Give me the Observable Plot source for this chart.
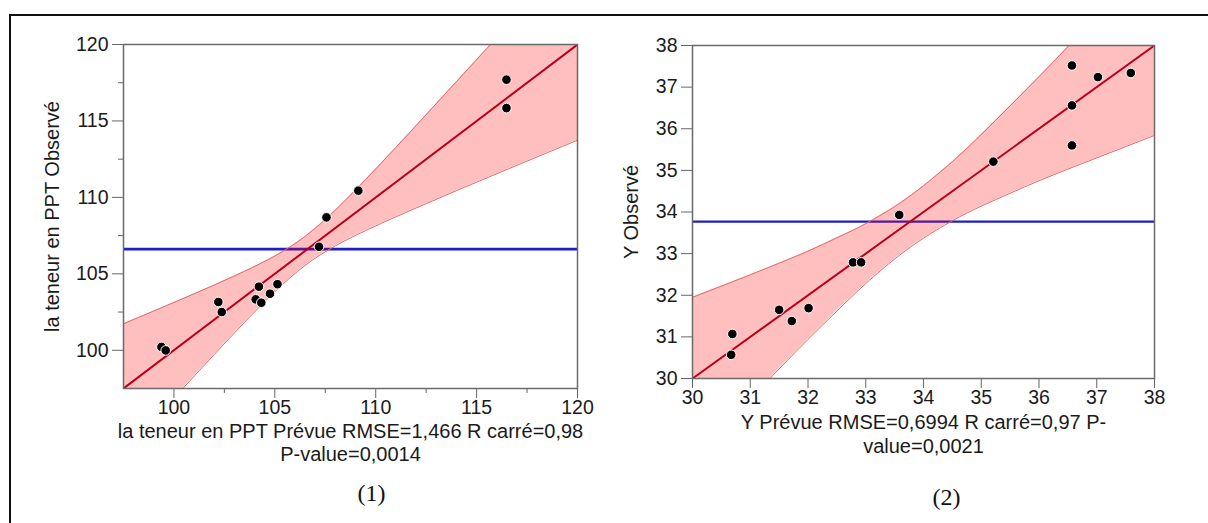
<!DOCTYPE html>
<html>
<head>
<meta charset="utf-8">
<script src="https://cdn.jsdelivr.net/npm/d3@7"></script>
<script src="https://cdn.jsdelivr.net/npm/@observablehq/plot@0.6"></script>
<style>
  html, body { margin: 0; padding: 0; background: #fff; }
  #page { position: relative; width: 1208px; height: 523px; overflow: hidden; background: #fff; }
  #page .border { position: absolute; left: 9px; top: 14px; right: -10px; bottom: -10px;
    border-top: 2px solid #111; border-left: 2px solid #111; pointer-events: none; }
  #panels { position: absolute; left: 0; top: 0; display: flex; }
</style>
</head>
<body>
<div id="page"><div id="panels"></div><div class="border"></div></div>
<script>
// (1) PPT content: predicted vs observed
const predPPT = [116.48, 116.48, 109.14, 107.56, 107.19, 105.13, 104.76, 104.21, 104.05, 104.33, 102.20, 102.37, 99.38, 99.59];
const obsPPT  = [117.70, 115.84, 110.44, 108.69, 106.77, 104.32, 103.70, 104.16, 103.33, 103.11, 103.16, 102.50, 100.22, 99.99];
const meanPPT = 106.61;
const fitXPPT = [97.5, 120];
const fitYPPT = [97.5, 120];
const bandXPPT  = [97.5, 99, 100.5, 102, 103.5, 105, 106.5, 108, 109.5, 111, 112.5, 114, 115.5, 117, 118.5, 120];
const bandLoPPT = [93.27, 95.44, 97.59, 99.73, 101.83, 103.83, 105.55, 106.83, 107.83, 108.73, 109.59, 110.44, 111.27, 112.10, 112.92, 113.74];
const bandHiPPT = [101.73, 102.57, 103.41, 104.27, 105.17, 106.17, 107.45, 109.17, 111.17, 113.27, 115.41, 117.57, 119.73, 121.90, 124.08, 126.26];
const domainPPT = [97.5, 120];
const ticksPPT = [100, 105, 110, 115, 120];
const minorTicksPPT = [102.5, 107.5, 112.5, 117.5];

// (2) Y: predicted vs observed
const predY = [36.57, 37.02, 37.59, 36.57, 36.57, 35.21, 33.58, 32.78, 32.92, 32.01, 31.50, 31.72, 30.69, 30.67];
const obsY  = [37.52, 37.24, 37.34, 36.56, 35.60, 35.21, 33.93, 32.79, 32.79, 31.69, 31.65, 31.38, 31.07, 30.57];
const meanY = 33.77;
const fitXY = [30, 38];
const fitYY = [30, 38];
const bandXY  = [30, 30.5, 31, 31.5, 32, 32.5, 33, 33.5, 33.77, 34, 34.5, 35, 35.5, 36, 36.5, 37, 37.5, 38];
const bandLoY = [28.05, 28.78, 29.51, 30.23, 30.94, 31.62, 32.28, 32.87, 33.15, 33.37, 33.79, 34.14, 34.45, 34.75, 35.03, 35.30, 35.57, 35.84];
const bandHiY = [31.95, 32.22, 32.49, 32.77, 33.06, 33.38, 33.72, 34.13, 34.39, 34.63, 35.21, 35.86, 36.55, 37.25, 37.97, 38.70, 39.43, 40.16];
const domainY = [30, 38];
const ticksY = [30, 31, 32, 33, 34, 35, 36, 37, 38];

// Text
const yTitlePPT = "la teneur en PPT Observé";
const xTitlePPT = ["la teneur en PPT Prévue RMSE=1,466 R carré=0,98", "P-value=0,0014"];
const captionPPT = "(1)";
const yTitleY = "Y Observé";
const xTitleY = ["Y Prévue RMSE=0,6994 R carré=0,97 P-", "value=0,0021"];
const captionY = "(2)";

const SANS = "'Liberation Sans', Arial, sans-serif";
const SERIF = "'Liberation Serif', 'DejaVu Serif', serif";
const TICK_SIZE = 19.5;
const TITLE_SIZE = 20;

function panel(cfg) {
  const points = cfg.pred.map((p, i) => ({pred: p, obs: cfg.obs[i]}));
  const band = cfg.bandX.map((x, i) => ({x, lo: cfg.bandLo[i], hi: cfg.bandHi[i]}));
  const fit = cfg.fitX.map((x, i) => ({x, y: cfg.fitY[i]}));
  const m = cfg.margins;
  const label = {text: d => d, textAnchor: "middle", lineAnchor: "middle", fill: "#1a1a1a"};
  return Plot.plot({
    width: 604,
    height: 523,
    marginLeft: m[0], marginRight: m[1], marginTop: m[2], marginBottom: m[3],
    style: {fontFamily: SANS, fontSize: "18px", color: "#1a1a1a", background: "transparent", overflow: "visible"},
    x: {domain: cfg.domain},
    y: {domain: cfg.domain},
    marks: [
      Plot.axisX(cfg.ticks, {tickSize: 10, tickPadding: 2, label: null, fontSize: TICK_SIZE, stroke: "#666"}),
      Plot.axisY(cfg.ticks, {tickSize: 11, tickPadding: 4, label: null, fontSize: TICK_SIZE, stroke: "#666"}),
      ...(cfg.minor ? [
        Plot.axisX(cfg.minor, {tickSize: 5, tickFormat: () => "", label: null, stroke: "#666"}),
        Plot.axisY(cfg.minor, {tickSize: 5, tickFormat: () => "", label: null, stroke: "#666"})
      ] : []),
      Plot.ruleY([cfg.mean], {stroke: "#1f1fc8", strokeWidth: cfg.meanWidth}),
      Plot.areaY(band, {x: "x", y1: "lo", y2: "hi", fill: "red", fillOpacity: 0.25, curve: "natural", clip: true}),
      Plot.line(band, {x: "x", y: "lo", stroke: "#e06a6a", strokeWidth: 1, curve: "natural", clip: true}),
      Plot.line(band, {x: "x", y: "hi", stroke: "#e06a6a", strokeWidth: 1, curve: "natural", clip: true}),
      Plot.line(fit, {x: "x", y: "y", stroke: "#b8001c", strokeWidth: 2, clip: true}),
      Plot.dot(points, {x: "pred", y: "obs", r: 4.8, fill: "#000", stroke: "#fff", strokeWidth: 1}),
      Plot.frame({stroke: "#6a6a6a", strokeWidth: 1.5}),
      Plot.text([cfg.yTitle], {...label, frameAnchor: "left", dx: cfg.yTitleDx, rotate: -90, fontSize: TITLE_SIZE}),
      Plot.text([cfg.xTitle[0]], {...label, frameAnchor: "bottom", dy: cfg.xTitleDy[0], fontSize: TITLE_SIZE}),
      Plot.text([cfg.xTitle[1]], {...label, frameAnchor: "bottom", dy: cfg.xTitleDy[1], fontSize: TITLE_SIZE}),
      Plot.text([cfg.caption], {...label, frameAnchor: "bottom", dx: cfg.captionDx, dy: cfg.captionDy, fontSize: 24, fontFamily: SERIF, fill: "#111"})
    ]
  });
}

const left = panel({
  pred: predPPT, obs: obsPPT, mean: meanPPT, meanWidth: 2.8,
  fitX: fitXPPT, fitY: fitYPPT,
  bandX: bandXPPT, bandLo: bandLoPPT, bandHi: bandHiPPT,
  domain: domainPPT, ticks: ticksPPT, minor: minorTicksPPT,
  margins: [123, 27, 44, 135],
  yTitle: yTitlePPT, yTitleDx: -71,
  xTitle: xTitlePPT, xTitleDy: [43, 66],
  caption: captionPPT, captionDx: 21, captionDy: 105
});

const right = panel({
  pred: predY, obs: obsY, mean: meanY, meanWidth: 2.2,
  fitX: fitXY, fitY: fitYY,
  bandX: bandXY, bandLo: bandLoY, bandHi: bandHiY,
  domain: domainY, ticks: ticksY, minor: null,
  margins: [88, 54, 45, 145],
  yTitle: yTitleY, yTitleDx: -61,
  xTitle: xTitleY, xTitleDy: [44, 68],
  caption: captionY, captionDx: 23, captionDy: 119
});

const panels = document.getElementById("panels");
panels.append(left, right);
</script>
</body>
</html>
